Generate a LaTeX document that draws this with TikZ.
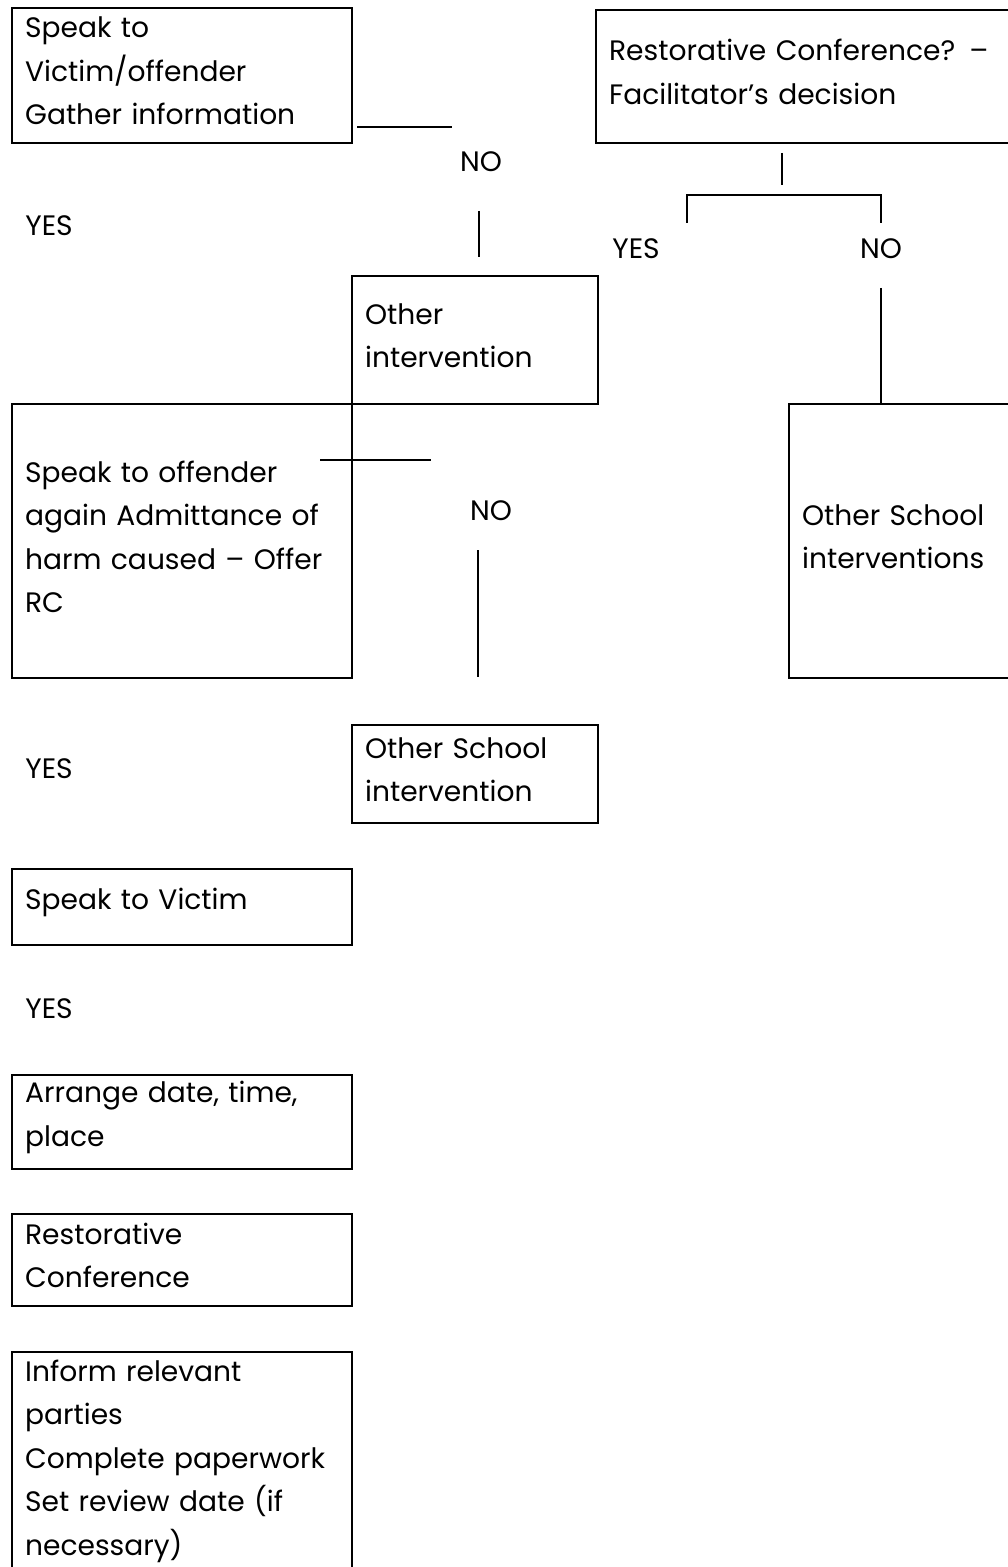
\documentclass[tikz,border=0pt]{standalone}
\usepackage{fontspec}
\setmainfont{Poppins}
\usepackage{tikz}
\usetikzlibrary{positioning}

\newcommand{\boxtail}{\endgraf\vspace{0.18cm}}

\begin{document}
\begin{tikzpicture}[x=0.02cm, y=-0.02cm,
    box/.style={rectangle, draw, line width=1.3pt, anchor=north west, align=left, inner xsep=0.26cm, inner ysep=0pt, font=\fontsize{16}{24.75}\selectfont, execute at end node=\boxtail},
    answer/.style={inner sep=0pt, font=\fontsize{16}{24.75}\selectfont},
    link/.style={line width=1.5pt}]

    \useasboundingbox (0,0) rectangle (1007,1567);

    \node (gather) [box, text width=6.28cm, minimum height=2.7cm] at (11,7) {Speak to\\Victim/offender\\Gather information};
    \node (rcq) [box, text width=8.18cm, minimum height=2.66cm] at (595,9) {Restorative Conference? --\\Facilitator’s decision};
    \node (otherint) [box, text width=4.4cm, minimum height=2.56cm] at (351,275) {Other\\intervention};
    \node (offender) [box, text width=6.28cm, minimum height=5.48cm] at (11,403) {Speak to offender\\again Admittance of\\harm caused -- Offer\\RC};
    \node (oschools) [box, text width=4.32cm, minimum height=5.48cm] at (788,403) {Other School\\interventions};
    \node (oschool) [box, text width=4.4cm, minimum height=1.96cm] at (351,724) {Other School\\intervention};
    \node (victim) [box, text width=6.28cm, minimum height=1.52cm] at (11,868) {Speak to Victim};
    \node (arrange) [box, text width=6.28cm, minimum height=1.88cm] at (11,1074) {Arrange date, time,\\place};
    \node (rconf) [box, text width=6.28cm, minimum height=1.84cm] at (11,1213) {Restorative\\Conference};
    \node (inform) [box, text width=6.28cm, minimum height=4.54cm] at (11,1351) {Inform relevant\\parties\\Complete paperwork\\Set review date (if\\necessary)};

    \node (no1) [answer] at (481,162) {NO};
    \node (yes1) [answer, anchor=west] at (25,226) {YES};
    \node (yes2) [answer, anchor=west] at (612,249) {YES};
    \node (no2) [answer] at (881,249) {NO};
    \node (no3) [answer] at (491,511) {NO};
    \node (yes3) [answer, anchor=west] at (25,769) {YES};
    \node (yes4) [answer, anchor=west] at (25,1009) {YES};

    \coordinate (a1) at (357,127);
    \coordinate (a2) at (452,127);
    \coordinate (b1) at (479,211);
    \coordinate (b2) at (479,257);
    \coordinate (c1) at (782,153);
    \coordinate (c2) at (782,185);
    \coordinate (d1) at (687,223);
    \coordinate (d2) at (881,223);
    \coordinate (e1) at (881,288);
    \coordinate (f1) at (320,460);
    \coordinate (f2) at (431,460);
    \coordinate (g1) at (478,550);
    \coordinate (g2) at (478,677);

    \draw [link] (a1) -- (a2);
    \draw [link] (b1) -- (b2);
    \draw [link] (c1) -- (c2);
    \draw [link] (d1) -- ++(0,-28) -| (d2);
    \draw [link] (e1) -- (e1 |- oschools.north);
    \draw [link] (f1) -- (f2);
    \draw [link] (g1) -- (g2);

\end{tikzpicture}
\end{document}
